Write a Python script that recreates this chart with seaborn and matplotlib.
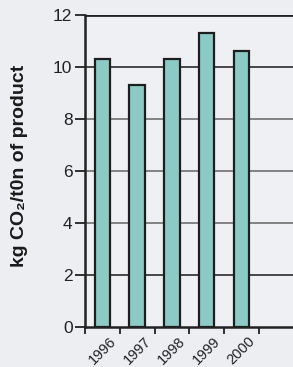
import matplotlib
matplotlib.use("Agg")
import matplotlib.pyplot as plt
import seaborn as sns
import pandas as pd
from matplotlib.ticker import FixedLocator

years = ["1996", "1997", "1998", "1999", "2000"]
values = [10.3, 9.3, 10.3, 11.3, 10.6]
y_ticks = [0, 2, 4, 6, 8, 10, 12]

sns.set_theme(style="white")
plt.rcParams['font.family'] = ['Liberation Sans', 'DejaVu Sans']

df = pd.DataFrame({"year": years, "value": values})

W, H = 293, 367
fig = plt.figure(figsize=(W / 100, H / 100), dpi=100)
fig.patch.set_facecolor("#eceef1")
ax = fig.add_axes([85 / W, (H - 327) / H, (W - 85) / W + 0.002, 312 / H])
ax.set_facecolor("#eef0f3")

sns.barplot(data=df, x="year", y="value", color="#8ccac6", width=0.44,
            edgecolor="#1e1e1e", linewidth=1.6, saturation=1, ax=ax, zorder=3)

ax.set_xlim(-0.5, 5.5)
ax.set_ylim(0, 12)
ax.set_yticks(y_ticks)
ax.set_yticklabels([str(t) for t in y_ticks], fontsize=12.5, color="#222222")
for y in y_ticks[1:]:
    if y == 12:
        ax.axhline(y, color="#222222", linewidth=2.0, zorder=1)
    else:
        ax.axhline(y, color="#3a3a3a" if y in (2, 10) else "#7a7a7a",
                   linewidth=1.3, zorder=1)

ax.xaxis.set_major_locator(FixedLocator(range(len(years))))
ax.set_xticklabels(years, rotation=45, ha="center", va="top", fontsize=10.5, color="#222222")
ax.xaxis.set_minor_locator(FixedLocator([i - 0.5 for i in range(7)]))
ax.tick_params(axis="x", which="major", length=0, pad=5)
ax.tick_params(axis="x", which="minor", length=5, width=1.3, color="#222222", direction="out", bottom=True)
ax.tick_params(axis="y", length=7, width=1.3, color="#222222", direction="out", left=True, pad=2)

for side in ["left", "bottom"]:
    ax.spines[side].set_color("#222222")
    ax.spines[side].set_linewidth(1.8)
ax.spines["top"].set_visible(False)
ax.spines["right"].set_visible(False)

ax.set_xlabel("")
ax.set_ylabel("")
fig.text(20 / W, 1 - 166 / H, "kg CO₂/t0n of product", rotation=90, ha="center", va="center",
         fontsize=14, fontweight="bold", color="#1a1a1a")

fig.savefig("out.png", dpi=100, facecolor=fig.get_facecolor())
